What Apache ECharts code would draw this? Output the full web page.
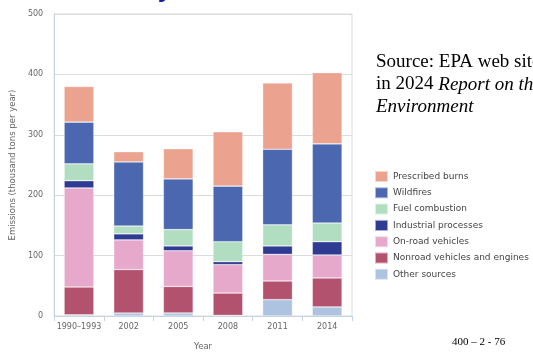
<!DOCTYPE html>
<html>
<head>
<meta charset="utf-8">
<script src="https://cdn.jsdelivr.net/npm/echarts@6/dist/echarts.min.js"></script>
<style>html,body{margin:0;padding:0;background:#fff}#c{width:533px;height:356px}</style>
</head>
<body>
<div id="c"></div>
<script>
const categories = ['1990–1993', '2002', '2005', '2008', '2011', '2014'];
const seriesNames = ['Other sources', 'Nonroad vehicles and engines', 'On-road vehicles', 'Industrial processes', 'Fuel combustion', 'Wildfires', 'Prescribed burns'];
const otherSources = [2, 5, 5, 1, 27, 15];
const nonroad = [46, 72, 44, 37, 31, 48];
const onroad = [164, 49, 59, 47, 44, 38];
const industrial = [12, 10, 8, 5, 14, 22];
const fuelCombustion = [28, 13, 27, 33, 35, 31];
const wildfires = [69, 106, 84, 92, 125, 131];
const prescribedBurns = [59, 17, 50, 90, 110, 118];
const yTicks = [0, 100, 200, 300, 400, 500];

const values = [otherSources, nonroad, onroad, industrial, fuelCombustion, wildfires, prescribedBurns];
const colors = ['#adc3df', '#b3526f', '#e6a8cb', '#2f3a93', '#b1dec0', '#4a67b0', '#eba390'];

const chart = echarts.init(document.getElementById('c'), null, {renderer: 'canvas'});
const font = 'DejaVu Sans';
chart.setOption({
  animation: false,
  backgroundColor: '#fff',
  grid: {left: 53, right: 181, top: 14, bottom: 37, show: true, borderColor: '#dcdcdc', borderWidth: 1, backgroundColor: 'transparent'},
  legend: {
    orient: 'vertical', left: 369, top: 165,
    itemWidth: 13, itemHeight: 11, itemGap: 3.3,
    icon: 'rect',
    data: seriesNames.slice().reverse(),
    textStyle: {fontFamily: font, fontSize: 9, color: '#444'}
  },
  xAxis: {
    type: 'category', data: categories,
    name: 'Year', nameLocation: 'middle', nameGap: 26,
    nameTextStyle: {fontFamily: font, fontSize: 8.5, color: '#666'},
    axisLine: {lineStyle: {color: '#c5d3e8', width: 1}},
    axisTick: {show: true, length: 5, lineStyle: {color: '#c5d3e8'}},
    axisLabel: {fontFamily: font, fontSize: 8, color: '#666', margin: 7, interval: 0}
  },
  yAxis: {
    type: 'value', min: yTicks[0], max: yTicks[yTicks.length - 1], interval: 100,
    name: 'Emissions (thousand tons per year)', nameLocation: 'middle', nameGap: 34,
    nameTextStyle: {fontFamily: font, fontSize: 8.5, color: '#666'},
    axisLine: {show: true, lineStyle: {color: '#c5d3e8', width: 1}},
    axisTick: {show: false},
    axisLabel: {fontFamily: font, fontSize: 8, color: '#666', margin: 11},
    splitLine: {lineStyle: {color: '#dcdcdc', width: 1}}
  },
  series: seriesNames.map((n, i) => ({
    name: n, type: 'bar', stack: 'total', barWidth: '60%',
    data: values[i],
    itemStyle: {color: colors[i], borderColor: 'rgba(255,255,255,0.55)', borderWidth: 0.6}
  })),
  graphic: [
    {type: 'text', left: 157, top: -19, style: {text: 'y', font: 'bold 22px "DejaVu Sans"', fill: '#1a1aa6'}},
    {type: 'text', left: 376, top: 53, style: {text: 'Source: EPA web site', font: '19px "Liberation Serif"', fill: '#000'}},
    {type: 'text', left: 376, top: 75, style: {
      text: '{n|in 2024 }{i|Report on the}',
      rich: {n: {font: '19px "Liberation Serif"', fill: '#000'}, i: {font: 'italic 19px "Liberation Serif"', fill: '#000'}}
    }},
    {type: 'text', left: 376, top: 97, style: {text: 'Environment', font: 'italic 19px "Liberation Serif"', fill: '#000'}},
    {type: 'text', left: 452, top: 337, style: {text: '400 – 2 - 76', font: '11px "Liberation Serif"', fill: '#000'}}
  ]
});
</script>
</body>
</html>
